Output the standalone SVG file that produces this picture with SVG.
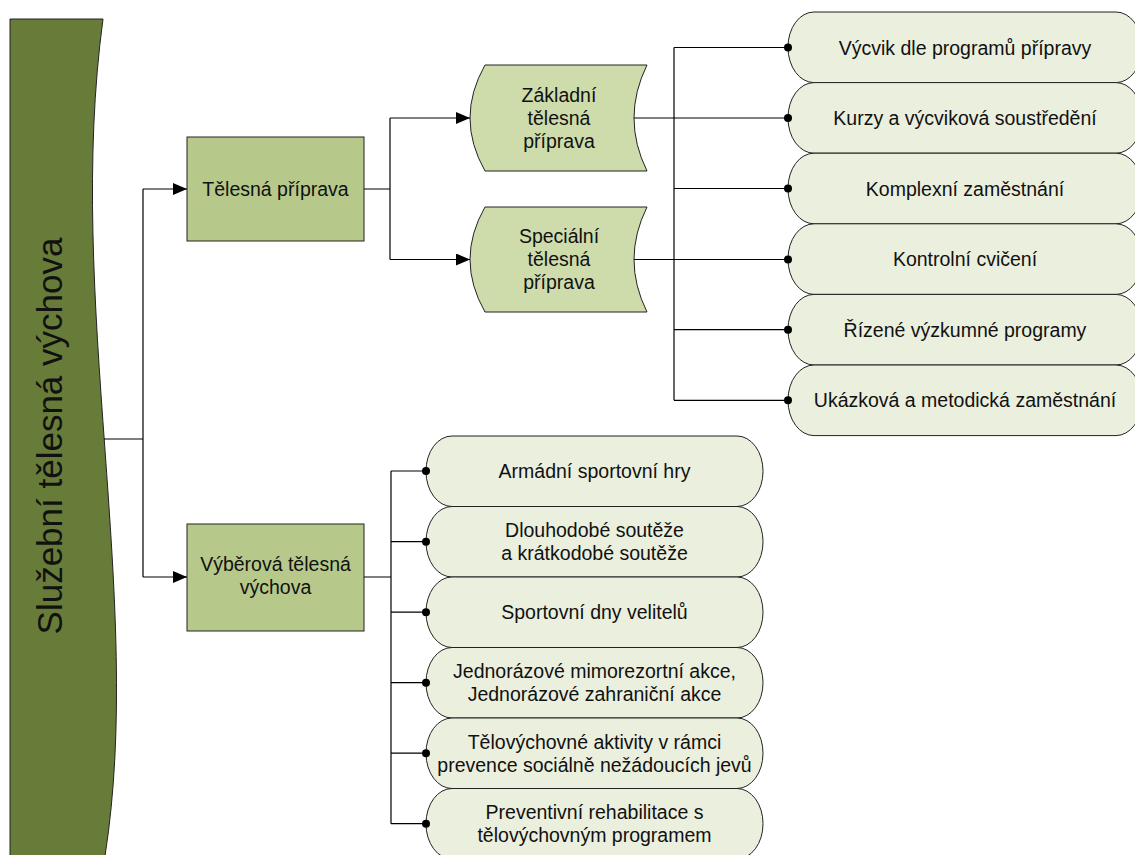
<svg xmlns="http://www.w3.org/2000/svg" width="1135" height="855" viewBox="0 0 1135 855">
  <defs>
    <marker id="arrow" markerWidth="14" markerHeight="12" refX="14" refY="6" orient="auto" markerUnits="userSpaceOnUse">
      <path d="M0,0 L14,6 L0,12 Z" fill="#000"/>
    </marker>
    <marker id="dot" markerWidth="10" markerHeight="10" refX="5" refY="5" markerUnits="userSpaceOnUse">
      <circle cx="5" cy="5" r="4" fill="#000"/>
    </marker>
  </defs>
  <style>
    text { font-family: "Liberation Sans", Arial, sans-serif; fill: #111; text-anchor: middle; }
    .lbl { font-size: 19.5px; }
    .banner { fill: #687c3a; stroke: #222; stroke-width: 1; }
    .box { fill: #b6c98a; stroke: #222; stroke-width: 1; }
    .doc { fill: #cedcab; stroke: #222; stroke-width: 1; }
    .pill { fill: #ebefde; stroke: #222; stroke-width: 1; }
    .wire { fill: none; stroke: #000; stroke-width: 1.2; }
  </style>

  <rect width="1135" height="855" fill="#fff"/>

  <!-- Root banner -->
  <g id="root">
    <path class="banner" d="M10,19 L103,19 C65,300 145,600 105,856 L10,856 Z"/>
    <text transform="translate(62,436) rotate(-90)" x="0" y="0" style="font-size:35px">Služební tělesná výchova</text>
  </g>

  <!-- Second level -->
  <g id="telesna-priprava">
    <rect class="box" x="187" y="137" width="177" height="104"/>
    <text class="lbl" x="275.5" y="196">Tělesná příprava</text>
  </g>
  <g id="vyberova-telesna-vychova">
    <rect class="box" x="187" y="524" width="177" height="107"/>
    <text class="lbl" x="275.5" y="571">Výběrová tělesná</text>
    <text class="lbl" x="275.5" y="594">výchova</text>
  </g>

  <!-- Third level (stored-data shapes) -->
  <g id="zakladni">
    <path class="doc" d="M485,65 L647,65 Q621,118 647,171 L485,171 Q455,118 485,65 Z"/>
    <text class="lbl" x="559" y="102">Základní</text>
    <text class="lbl" x="559" y="125">tělesná</text>
    <text class="lbl" x="559" y="148">příprava</text>
  </g>
  <g id="specialni">
    <path class="doc" d="M485,207 L647,207 Q621,259.5 647,312 L485,312 Q455,259.5 485,207 Z"/>
    <text class="lbl" x="559" y="243">Speciální</text>
    <text class="lbl" x="559" y="266">tělesná</text>
    <text class="lbl" x="559" y="289">příprava</text>
  </g>

  <!-- Training forms -->
  <g id="p1"><rect class="pill" x="788" y="12" width="354" height="70.6" rx="26" ry="35"/><text class="lbl" x="965" y="54.5">Výcvik dle programů přípravy</text></g>
  <g id="p2"><rect class="pill" x="788" y="82.6" width="354" height="70.6" rx="26" ry="35"/><text class="lbl" x="965" y="125">Kurzy a výcviková soustředění</text></g>
  <g id="p3"><rect class="pill" x="788" y="153.2" width="354" height="70.6" rx="26" ry="35"/><text class="lbl" x="965" y="195.5">Komplexní zaměstnání</text></g>
  <g id="p4"><rect class="pill" x="788" y="223.8" width="354" height="70.6" rx="26" ry="35"/><text class="lbl" x="965" y="266">Kontrolní cvičení</text></g>
  <g id="p5"><rect class="pill" x="788" y="294.4" width="354" height="70.6" rx="26" ry="35"/><text class="lbl" x="965" y="336.5">Řízené výzkumné programy</text></g>
  <g id="p6"><rect class="pill" x="788" y="365" width="354" height="70.6" rx="26" ry="35"/><text class="lbl" x="965" y="407">Ukázková a metodická zaměstnání</text></g>

  <!-- Elective forms -->
  <g id="v1"><rect class="pill" x="426" y="436" width="337" height="70.5" rx="26" ry="35"/><text class="lbl" x="594.5" y="478">Armádní sportovní hry</text></g>
  <g id="v2"><rect class="pill" x="426" y="506.5" width="337" height="70.5" rx="26" ry="35"/><text class="lbl" x="594.5" y="537">Dlouhodobé soutěže</text><text class="lbl" x="594.5" y="560">a krátkodobé soutěže</text></g>
  <g id="v3"><rect class="pill" x="426" y="577" width="337" height="70.5" rx="26" ry="35"/><text class="lbl" x="594.5" y="619">Sportovní dny velitelů</text></g>
  <g id="v4"><rect class="pill" x="426" y="647.5" width="337" height="70.5" rx="26" ry="35"/><text class="lbl" x="594.5" y="678">Jednorázové mimorezortní akce,</text><text class="lbl" x="594.5" y="701">Jednorázové zahraniční akce</text></g>
  <g id="v5"><rect class="pill" x="426" y="718" width="337" height="70.5" rx="26" ry="35"/><text class="lbl" x="594.5" y="748.5">Tělovýchovné aktivity v rámci</text><text class="lbl" x="594.5" y="771.5">prevence sociálně nežádoucích jevů</text></g>
  <g id="v6"><rect class="pill" x="426" y="788.5" width="337" height="70.5" rx="26" ry="35"/><text class="lbl" x="594.5" y="819">Preventivní rehabilitace s</text><text class="lbl" x="594.5" y="842">tělovýchovným programem</text></g>

  <!-- Connectors -->
  <g id="connectors">
    <path class="wire" d="M104,439 H143 M143,189 V577"/>
    <path class="wire" d="M143,189 H187" marker-end="url(#arrow)"/>
    <path class="wire" d="M143,577 H187" marker-end="url(#arrow)"/>

    <path class="wire" d="M364,189 H390 M390,118 V259.5"/>
    <path class="wire" d="M390,118 H470" marker-end="url(#arrow)"/>
    <path class="wire" d="M390,259.5 H470" marker-end="url(#arrow)"/>

    <path class="wire" d="M674,47.5 V400.3"/>
    <path class="wire" d="M674,47.5 H788" marker-end="url(#dot)"/>
    <path class="wire" d="M634,118 H788" marker-end="url(#dot)"/>
    <path class="wire" d="M674,188.5 H788" marker-end="url(#dot)"/>
    <path class="wire" d="M634,259.5 H788" marker-end="url(#dot)"/>
    <path class="wire" d="M674,329.7 H788" marker-end="url(#dot)"/>
    <path class="wire" d="M674,400.3 H788" marker-end="url(#dot)"/>

    <path class="wire" d="M364,577 H391 M391,471 V823.7"/>
    <path class="wire" d="M391,471 H426" marker-end="url(#dot)"/>
    <path class="wire" d="M391,541.7 H426" marker-end="url(#dot)"/>
    <path class="wire" d="M391,612.2 H426" marker-end="url(#dot)"/>
    <path class="wire" d="M391,682.7 H426" marker-end="url(#dot)"/>
    <path class="wire" d="M391,753.2 H426" marker-end="url(#dot)"/>
    <path class="wire" d="M391,823.7 H426" marker-end="url(#dot)"/>
  </g>
</svg>
